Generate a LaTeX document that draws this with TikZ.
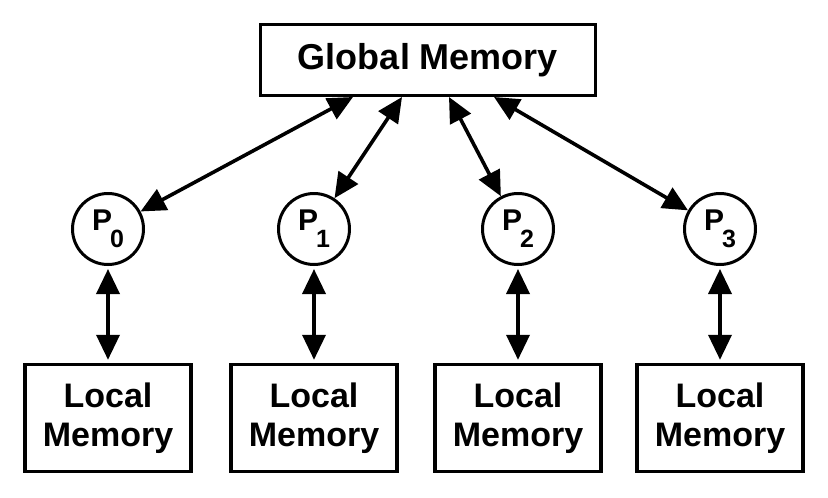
\documentclass[tikz,border=0pt]{standalone}
\usepackage{fontspec}
\setmainfont{Liberation Sans}
\usetikzlibrary{arrows.meta}
\begin{document}
\begin{tikzpicture}[x=1pt,y=-1pt,
  membox/.style={draw,line width=3.4pt,inner sep=0pt,align=center},
  localbox/.style={membox,minimum width=166pt,minimum height=107pt,
    font=\fontsize{34}{39}\selectfont\bfseries},
  proc/.style={draw,circle,line width=3pt,minimum size=71pt,inner sep=0pt,
    font=\fontsize{30}{30}\selectfont\bfseries},
  tip/.tip={Triangle[length=25pt 0 0,width=23pt 0 0]},
  conn/.style={line width=3.6pt,tip-tip},
  vconn/.style={conn,shorten <=3pt,shorten >=3pt}]
\useasboundingbox (0,0) rectangle (828,498);
\newcommand{\procname}[1]{P\kern-2pt\raisebox{-17pt}{\fontsize{25}{25}\selectfont #1}}
\node[membox,minimum width=335pt,minimum height=71pt,font=\fontsize{36}{40}\selectfont\bfseries] (gm) at (428,60) {Global Memory};
\foreach \i/\x in {0/108,1/314,2/518,3/720}{
  \node[proc] (p\i) at (\x,229) {\procname{\i}};
  \node[localbox] (l\i) at (\x,418) {Local\\Memory};
}
\coordinate (g0) at (353,97);
\coordinate (g1) at (402,97);
\coordinate (g2) at (449,97);
\coordinate (g3) at (494,97);
\foreach \i in {0,1,2,3}{
  \draw[conn] (p\i) -- (g\i);
  \draw[vconn] (p\i) -- (l\i);
}
\end{tikzpicture}
\end{document}
